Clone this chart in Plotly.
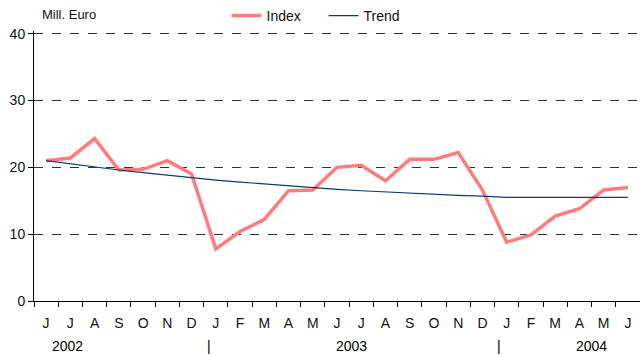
import plotly.graph_objects as go

# Monthly series, June 2002 to June 2004
months = ["J", "J", "A", "S", "O", "N", "D",
          "J", "F", "M", "A", "M", "J", "J", "A", "S", "O", "N", "D",
          "J", "F", "M", "A", "M", "J"]
index_vals = [21.0, 21.4, 24.3, 19.6, 19.7, 21.0, 19.0,
              7.8, 10.4, 12.2, 16.5, 16.6, 20.0, 20.3, 18.0, 21.2, 21.2, 22.2, 16.6,
              8.8, 9.9, 12.7, 13.8, 16.6, 17.0]
trend_vals = [21.0, 20.5, 20.0, 19.6, 19.2, 18.8, 18.4,
              18.1, 17.8, 17.5, 17.3, 17.0, 16.7, 16.5, 16.3, 16.2, 16.0, 15.8, 15.7,
              15.5, 15.5, 15.5, 15.5, 15.5, 15.5]
years = ["2002", "2003", "2004"]
year_pos = [0.9, 12.6, 22.5]
separator_pos = [6.7, 18.7]

FONT = "Arial, Liberation Sans, sans-serif"
x = list(range(len(months)))
n = len(months)

fig = go.Figure()
fig.add_trace(go.Scatter(x=x, y=index_vals, mode="lines", name="Index",
                         line=dict(color="#FF7C7C", width=3.5)))
fig.add_trace(go.Scatter(x=x, y=trend_vals, mode="lines", name="Trend",
                         line=dict(color="#0B3C6E", width=1.2)))
# invisible helper trace for the boundary-tick axis
fig.add_trace(go.Scatter(x=[-0.5, n - 0.5], y=[0, 0], xaxis="x2", mode="lines",
                         line=dict(width=0), showlegend=False, hoverinfo="skip"))

M_L, M_R, M_T, M_B = 34, 0, 31, 55
plot_h = 356 - M_T - M_B
plot_w = 640 - M_L - M_R

fig.update_layout(
    width=640, height=356,
    margin=dict(l=M_L, r=M_R, t=M_T, b=M_B, autoexpand=False),
    paper_bgcolor="white", plot_bgcolor="white",
    font=dict(family=FONT, size=14, color="#111"),
    showlegend=True,
    legend=dict(orientation="h", xref="container", yref="container",
                x=0.354, y=0.955, xanchor="left", yanchor="middle",
                font=dict(size=14), bgcolor="rgba(0,0,0,0)", itemwidth=30,
                entrywidth=52, entrywidthmode="pixels", tracegroupgap=0),
    xaxis=dict(range=[-0.5, n - 0.5], tickmode="array", tickvals=x, ticktext=months,
               ticks="outside", ticklen=9, tickcolor="rgba(0,0,0,0)",
               showgrid=False, zeroline=False, showline=True, linecolor="black",
               linewidth=1, tickfont=dict(size=14)),
    xaxis2=dict(range=[-0.5, n - 0.5], overlaying="x", anchor="y",
                tickmode="array", tickvals=[i - 0.5 for i in range(n + 1)],
                ticks="outside", ticklen=5, tickcolor="black", showticklabels=False,
                showgrid=False, zeroline=False, showline=False),
    yaxis=dict(range=[0, 40.4], tickvals=[0, 10, 20, 30, 40], ticks="outside",
               ticklen=5, tickcolor="black",
               showline=True, linecolor="black", linewidth=1,
               showgrid=True, gridcolor="#333", griddash="dash", gridwidth=1,
               zeroline=False, tickfont=dict(size=14)),
)

# unit label above the y axis
annotations = [dict(text="Mill. Euro", x=(40 - M_L) / plot_w, y=1 + (M_T - 15) / plot_h,
                    xref="paper", yref="paper", xanchor="left", yanchor="middle",
                    showarrow=False, font=dict(size=13))]
# year row under the month letters
for yr, pos in zip(years, year_pos):
    annotations.append(dict(text=yr, x=pos, y=-45 / plot_h, xref="x", yref="paper",
                            xanchor="center", yanchor="middle", showarrow=False,
                            font=dict(size=14, color="black")))
for pos in separator_pos:
    annotations.append(dict(text="|", x=pos, y=-45 / plot_h, xref="x", yref="paper",
                            xanchor="center", yanchor="middle", showarrow=False,
                            font=dict(size=14, color="black")))
fig.update_layout(annotations=annotations)

fig.write_html("out.html")
